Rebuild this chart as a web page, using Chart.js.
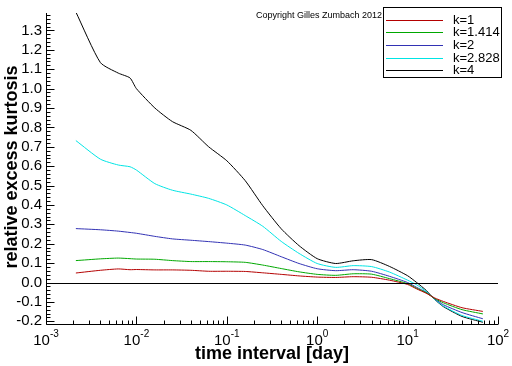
<!DOCTYPE html>
<html>
<head>
<meta charset="utf-8">
<script src="https://cdn.jsdelivr.net/npm/chart.js@4"></script>
<style>
  body { margin: 0; background: #fff; }
  canvas { display: block; }
</style>
</head>
<body>
<canvas id="kurtChart" width="512" height="366"></canvas>
<script>
// time intervals in days (log spaced)
const tDays = [0.00214, 0.004, 0.0063, 0.0085, 0.01, 0.016, 0.025, 0.04, 0.063, 0.1, 0.16, 0.25, 0.4, 0.63,
               1, 1.6, 2.5, 4, 6.3, 10, 12.6, 16, 20, 25, 40, 68];

// relative excess kurtosis per k
const k1    = [0.049, 0.063, 0.070, 0.066, 0.067, 0.065, 0.065, 0.063, 0.058, 0.058, 0.057, 0.050, 0.042, 0.034,
               0.028, 0.026, 0.030, 0.027, 0.012, -0.010, -0.033, -0.055, -0.080, -0.098, -0.130, -0.149];
const k1414 = [0.113, 0.122, 0.126, 0.123, 0.121, 0.120, 0.113, 0.108, 0.108, 0.107, 0.104, 0.090, 0.072, 0.055,
               0.042, 0.037, 0.045, 0.043, 0.020, -0.006, -0.030, -0.052, -0.083, -0.105, -0.140, -0.162];
const k2    = [0.278, 0.272, 0.265, 0.258, 0.254, 0.238, 0.225, 0.218, 0.211, 0.203, 0.193, 0.170, 0.133, 0.098,
               0.071, 0.061, 0.066, 0.058, 0.032, 0.000, -0.025, -0.050, -0.085, -0.115, -0.155, -0.187];
const k2828 = [0.732, 0.636, 0.606, 0.597, 0.580, 0.510, 0.476, 0.456, 0.434, 0.400, 0.345, 0.290, 0.212, 0.150,
               0.098, 0.078, 0.087, 0.082, 0.054, 0.012, -0.012, -0.045, -0.087, -0.122, -0.170, -0.200];
const k4    = [1.395, 1.134, 1.080, 1.055, 1.000, 0.900, 0.830, 0.785, 0.700, 0.628, 0.525, 0.396, 0.277, 0.190,
               0.123, 0.098, 0.112, 0.118, 0.083, 0.035, 0.000, -0.040, -0.088, -0.125, -0.175, -0.205];

const seriesLabels = ['k=1', 'k=1.414', 'k=2', 'k=2.828', 'k=4'];
const yTicks = [-0.2, -0.1, 0.0, 0.1, 0.2, 0.3, 0.4, 0.5, 0.6, 0.7, 0.8, 0.9, 1.0, 1.1, 1.2, 1.3];
const xDecades = [-3, -2, -1, 0, 1, 2];

const colors = ['#b40000', '#00a800', '#3232b4', '#00e4e4', '#000000'];
const FONT = "'Liberation Sans', Arial, sans-serif";

function toPoints(vals) {
  return tDays.map((t, i) => ({ x: t, y: vals[i] }));
}

// axes, inward ticks, zero line, legend box and titles
const decorPlugin = {
  id: 'decor',
  afterDraw(chart) {
    const ctx = chart.ctx;
    const xs = chart.scales.x, ys = chart.scales.y;
    const a = chart.chartArea;
    ctx.save();
    ctx.strokeStyle = '#000';
    ctx.lineWidth = 1;

    // zero line
    const y0 = Math.round(ys.getPixelForValue(0)) + 0.5;
    ctx.beginPath();
    ctx.moveTo(a.left, y0); ctx.lineTo(a.right, y0);
    ctx.stroke();

    // left and bottom axis
    const L = Math.round(a.left) + 0.5, B = Math.round(a.bottom) + 0.5;
    ctx.beginPath();
    ctx.moveTo(L, a.top); ctx.lineTo(L, B); ctx.lineTo(a.right, B);
    ctx.stroke();

    // x ticks (pointing up)
    ctx.beginPath();
    xDecades.forEach(n => {
      for (let m = 1; m <= 9; m++) {
        if (n === 2 && m > 1) break;
        const px = Math.round(xs.getPixelForValue(m * Math.pow(10, n))) + 0.5;
        const len = m === 1 ? 8 : 4;
        ctx.moveTo(px, B); ctx.lineTo(px, B - len);
      }
    });
    // y ticks (pointing right)
    for (let i = -10; i <= 69; i++) {
      const v = i * 0.02;
      const py = Math.round(ys.getPixelForValue(v)) + 0.5;
      const len = i % 5 === 0 ? 8 : 4;
      ctx.moveTo(L, py); ctx.lineTo(L + len, py);
    }
    ctx.stroke();

    // x tick labels 10^n
    ctx.fillStyle = '#000';
    ctx.textBaseline = 'alphabetic';
    ctx.textAlign = 'left';
    xDecades.forEach(n => {
      const px = xs.getPixelForValue(Math.pow(10, n));
      ctx.font = '15px ' + FONT;
      const wb = ctx.measureText('10').width;
      ctx.font = '10px ' + FONT;
      const exp = String(n);
      const we = ctx.measureText(exp).width;
      const x0 = px - (wb + we) / 2;
      ctx.font = '15px ' + FONT;
      ctx.fillText('10', x0, 345);
      ctx.font = '10px ' + FONT;
      ctx.fillText(exp, x0 + wb, 337);
    });

    // axis titles
    ctx.font = 'bold 18px ' + FONT;
    ctx.textAlign = 'center';
    ctx.fillText('time interval [day]', (a.left + a.right) / 2, 359);
    ctx.save();
    ctx.translate(17, 167);
    ctx.rotate(-Math.PI / 2);
    ctx.fillText('relative excess kurtosis', 0, 0);
    ctx.restore();

    // copyright
    ctx.font = '9px ' + FONT;
    ctx.textAlign = 'left';
    ctx.textBaseline = 'middle';
    ctx.fillText('Copyright Gilles Zumbach 2012', 256, 16);

    // legend box
    ctx.fillStyle = '#fff';
    ctx.fillRect(383, 7, 119, 71);
    ctx.strokeRect(383.5, 7.5, 118, 70);
    ctx.font = '13px ' + FONT;
    chart.data.datasets.forEach((ds, i) => {
      const ly = Math.round(19.5 + i * 12.7) + 0.5;
      ctx.strokeStyle = ds.borderColor;
      ctx.beginPath();
      ctx.moveTo(386, ly); ctx.lineTo(443, ly);
      ctx.stroke();
      ctx.fillStyle = '#000';
      ctx.fillText(ds.label, 453, ly);
    });
    ctx.restore();
  }
};

const ctx = document.getElementById('kurtChart').getContext('2d');
new Chart(ctx, {
  type: 'line',
  data: {
    datasets: [k1, k1414, k2, k2828, k4].map((vals, i) => ({
      label: seriesLabels[i],
      data: toPoints(vals),
      borderColor: colors[i],
      borderWidth: 1,
      pointRadius: 0,
      fill: false,
      tension: 0.2
    }))
  },
  options: {
    responsive: false,
    animation: false,
    devicePixelRatio: 1,
    layout: { padding: { top: 8, right: 14, left: 0, bottom: 0 } },
    plugins: { legend: { display: false }, tooltip: { enabled: false } },
    scales: {
      x: {
        type: 'logarithmic',
        min: 0.001,
        max: 100,
        grid: { display: false },
        border: { display: false },
        ticks: { display: false },
        afterFit: s => { s.height = 42; }
      },
      y: {
        type: 'linear',
        min: -0.214,
        max: 1.39,
        grid: { display: false, drawTicks: false },
        border: { display: false },
        afterBuildTicks: s => { s.ticks = yTicks.map(v => ({ value: v })); },
        ticks: {
          autoSkip: false,
          padding: 4,
          color: '#000',
          font: { family: FONT, size: 15 },
          callback: v => v.toFixed(1)
        },
        afterFit: s => { s.width = 46; }
      }
    }
  },
  plugins: [decorPlugin]
});
</script>
</body>
</html>
